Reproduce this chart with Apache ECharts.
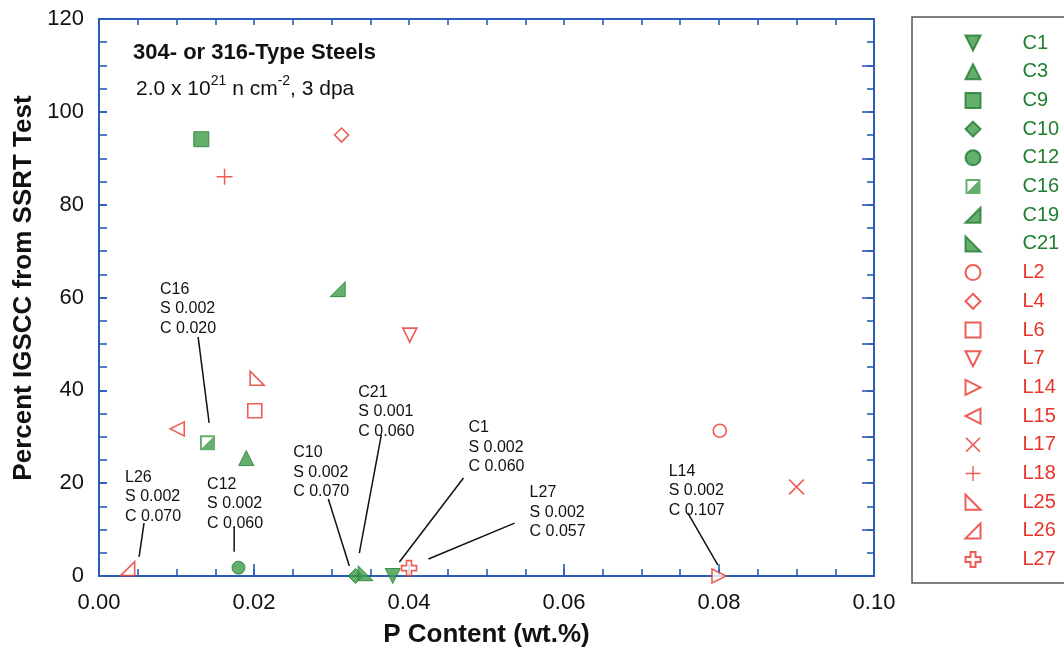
<!DOCTYPE html>
<html><head><meta charset="utf-8">
<script src="https://cdn.jsdelivr.net/npm/echarts@6/dist/echarts.min.js"></script>
<style>html,body{margin:0;padding:0;background:#fff}#c{width:1064px;height:658px}</style>
</head><body><div id="c"></div>
<script>
// ---- data ----
const sampleNames = ['C1','C3','C9','C10','C12','C16','C19','C21','L2','L4','L6','L7','L14','L15','L17','L18','L25','L26','L27'];
const pContent    = [0.0379,0.0190,0.0132,0.0331,0.0180,0.0140,0.0308,0.0344,0.0801,0.0313,0.0201,0.0401,0.0800,0.0101,0.0900,0.0162,0.0204,0.0037,0.0400];
const igscc       = [0,25.4,94.1,0,1.8,28.7,61.8,0.6,31.3,95.0,35.6,51.9,0,31.7,19.2,86.0,42.6,1.6,1.7];
const xTickLabels = ['0.00','0.02','0.04','0.06','0.08','0.10'];
const yTickLabels = ['0','20','40','60','80','100','120'];
const noteNames = ['C16','C21','C1','C10','L27','L26','C12','L14'];
const noteS     = ['0.002','0.001','0.002','0.002','0.002','0.002','0.002','0.002'];
const noteC     = ['0.020','0.060','0.060','0.070','0.057','0.070','0.060','0.107'];

// ---- layout / style (annotation placement in data units) ----
const noteLayout = [
  {tx:0.00788,ty:61.8, a:[0.01279,51.5], b:[0.01421,33.0]},
  {tx:0.03346,ty:39.6, a:[0.03643,30.4], b:[0.03359,4.95]},
  {tx:0.04767,ty:31.9, a:[0.04703,21.1], b:[0.03876,3.0]},
  {tx:0.02506,ty:26.5, a:[0.02959,16.6], b:[0.0323,2.15]},
  {tx:0.05556,ty:17.9, a:[0.05362,11.4], b:[0.04251,3.66]},
  {tx:0.00336,ty:21.3, a:[0.00581,11.4], b:[0.00517,4.1]},
  {tx:0.01395,ty:19.8, a:[0.01744,10.6], b:[0.01744,5.2]},
  {tx:0.07351,ty:22.6, a:[0.07597,13.6], b:[0.07984,2.4]}
];
const GREEN='#3d9b47', GREEN_D='#1f7a31', GREEN_T='#1f7f2e', RED='#e8352b', AXIS='#2a5cb8';
const FONT='"Liberation Sans", Arial, sans-serif';
const P_RT_FILL='path://M10,0 L10,10 L0,10 Z';       // ◢
const P_LT_FILL='path://M0,0 L0,10 L10,10 Z';        // ◣
const P_DOWN='path://M0,0 L10,0 L5,10 Z';            // ▽
const P_RIGHT='path://M0,0 L10,5 L0,10 Z';           // ▷
const P_LEFT='path://M10,0 L0,5 L10,10 Z';           // ◁
const P_HALF='path://M0,0 H10 V10 H0 Z M1.3,1.3 V8.7 H8.7 V1.3 Z M8.7,1.3 L8.7,8.7 L1.3,8.7 Z';
const P_PLUS='path://M7.25,0 H8.75 V7.25 H16 V8.75 H8.75 V16 H7.25 V8.75 H0 V7.25 H7.25 Z';
const P_X='path://M0,1.2 L1.2,0 L8,6.8 L14.8,0 L16,1.2 L9.2,8 L16,14.8 L14.8,16 L8,9.2 L1.2,16 L0,14.8 L6.8,8 Z';
const P_CROSS='path://M5,0 H10 V5 H15 V10 H10 V15 H5 V10 H0 V5 H5 Z';
const markerStyle = {
  C1:{s:P_DOWN,z:15,f:1}, C3:{s:'triangle',z:15,f:1}, C9:{s:'rect',z:15,f:1},
  C10:{s:'diamond',z:15,f:1}, C12:{s:'circle',z:13,f:1}, C16:{s:P_HALF,z:15,f:2},
  C19:{s:P_RT_FILL,z:15,f:1}, C21:{s:P_LT_FILL,z:15,f:1},
  L2:{s:'circle',z:13,f:0}, L4:{s:'diamond',z:14,f:0}, L6:{s:'rect',z:14,f:0},
  L7:{s:P_DOWN,z:14,f:0}, L14:{s:P_RIGHT,z:14,f:0}, L15:{s:P_LEFT,z:14,f:0},
  L17:{s:P_X,z:16,f:3}, L18:{s:P_PLUS,z:16,f:3}, L25:{s:P_LT_FILL,z:14,f:0},
  L26:{s:P_RT_FILL,z:14,f:0}, L27:{s:P_CROSS,z:15,f:0}
};

const series = sampleNames.map((name,i)=>{
  const m = markerStyle[name];
  let itemStyle;
  if (m.f===1) itemStyle={color:GREEN,borderColor:GREEN_D,borderWidth:1};
  else if (m.f===2) itemStyle={color:GREEN,borderWidth:0};
  else if (m.f===3) itemStyle={color:RED,borderWidth:0};
  else itemStyle={color:'#ffffff',borderColor:RED,borderWidth:1.6};
  return {
    name, type:'scatter', clip:false, symbol:m.s, symbolSize:m.z,
    symbolKeepAspect:true, itemStyle, emphasis:{disabled:true},
    xAxisIndex:0, yAxisIndex:0,
    data:[[pContent[i], igscc[i]]]
  };
});

const axisLine={show:true,onZero:false,lineStyle:{color:AXIS,width:2}};
const tickLine={color:AXIS,width:1.6};
function tickAxis(extra, len){
  return Object.assign({type:'value', axisLine,
    axisTick:{show:true,inside:true,length:len,lineStyle:tickLine},
    splitLine:{show:false}, axisLabel:{show:false}}, extra);
}
const option = {
  animation:false,
  textStyle:{fontFamily:FONT},
  grid:{left:99,right:190,top:19,bottom:82},
  legend:{
    orient:'vertical', left:964.5, top:33, padding:0, itemWidth:15, itemHeight:15, itemGap:8.7,
    selectedMode:false,
    textStyle:{fontSize:20, fontFamily:FONT, padding:[0,0,0,37]},
    data: sampleNames.map(n=>({name:n, textStyle:{color: n[0]==='C'?GREEN_T:RED}}))
  },
  xAxis:[
    {type:'value',position:'bottom',min:0,max:0.1,interval:0.02,
     name:'P Content (wt.%)',nameLocation:'middle',nameGap:46,
     nameTextStyle:{fontSize:26,fontWeight:'bold',color:'#111',fontFamily:FONT},
     axisLine, axisTick:{show:true,inside:true,length:12,lineStyle:tickLine},
     splitLine:{show:false},
     axisLabel:{fontSize:22,color:'#111',margin:16,fontFamily:FONT,
       formatter:(v)=>xTickLabels[Math.round(v/0.02)]}},
    tickAxis({position:'top',min:0,max:0.1,interval:0.005}, 6),
    tickAxis({position:'bottom',min:0,max:0.1,interval:0.005}, 7)
  ],
  yAxis:[
    {type:'value',position:'left',min:0,max:120,interval:20,
     name:'Percent IGSCC from SSRT Test',nameLocation:'middle',nameGap:60,
     nameTextStyle:{fontSize:26,fontWeight:'bold',color:'#111',fontFamily:FONT,padding:[0,0,0,19]},
     axisLine, axisTick:{show:true,inside:true,length:8,lineStyle:tickLine},
     splitLine:{show:false},
     axisLabel:{fontSize:22,color:'#111',margin:15,fontFamily:FONT,
       formatter:(v)=>yTickLabels[Math.round(v/20)]}},
    tickAxis({position:'right',min:0,max:120,interval:10}, 12),
    tickAxis({position:'left',min:0,max:120,interval:5}, 8),
    tickAxis({position:'right',min:0,max:120,interval:5}, 7)
  ],
  series
};

const chart = echarts.init(document.getElementById('c'), null, {renderer:'canvas'});
chart.setOption(option);

function px(x,y){ return chart.convertToPixel({xAxisIndex:0, yAxisIndex:0},[x,y]); }
const graphics = [
  {type:'rect', shape:{x:912,y:17,width:200,height:566}, style:{fill:'none',stroke:'#555',lineWidth:1.5}, z:0},
  {type:'text', x:133, y:53, style:{text:'304- or 316-Type Steels', font:'bold 22px '+FONT, fill:'#111', textVerticalAlign:'middle'}},
  {type:'text', x:136, y:74, style:{text:'2.0 x 10{sup|21} n cm{sup|-2}, 3 dpa', font:'21px '+FONT, fill:'#111',
     rich:{sup:{fontSize:14, fontFamily:FONT, lineHeight:14, verticalAlign:'top', fill:'#111'}}, lineHeight:30}}
];
noteLayout.forEach((L,i)=>{
  const t=px(L.tx,L.ty), a=px(L.a[0],L.a[1]), b=px(L.b[0],L.b[1]);
  graphics.push({type:'line', shape:{x1:a[0],y1:a[1],x2:b[0],y2:b[1]}, style:{stroke:'#111',lineWidth:1.5}, z:5});
  graphics.push({type:'text', x:t[0], y:t[1]-9.75, z:6,
    style:{text:noteNames[i]+'\nS '+noteS[i]+'\nC '+noteC[i], font:'16px '+FONT, fill:'#111', lineHeight:19.5}});
});
chart.setOption({graphic:graphics});
</script></body></html>
